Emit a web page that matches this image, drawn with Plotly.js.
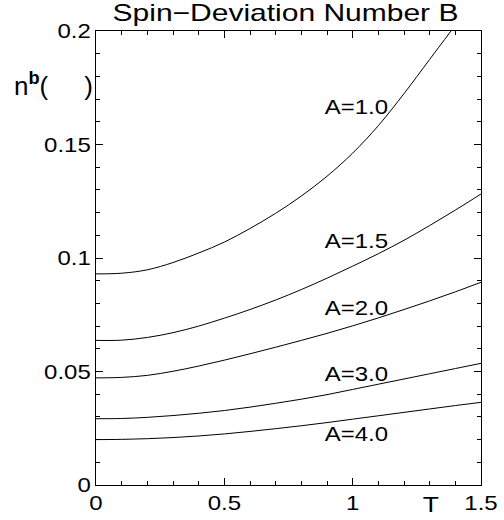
<!DOCTYPE html>
<html>
<head>
<meta charset="utf-8">
<script src="https://cdn.plot.ly/plotly-3.0.1.min.js"></script>
<style>html,body{margin:0;padding:0;background:#fff}</style>
</head>
<body>
<div id="chart" style="width:504px;height:520px"></div>
<script>
// Temperature grid (T)
const T = [0, 0.1, 0.2, 0.3, 0.4, 0.5, 0.6, 0.7, 0.8, 0.9, 1.0, 1.1, 1.2, 1.3, 1.4, 1.5];
const T_A1 = [0, 0.1, 0.2, 0.3, 0.4, 0.5, 0.6, 0.7, 0.8, 0.9, 1.0, 1.1, 1.2, 1.3, 1.383];
// Spin-deviation number n^b for each anisotropy A
const nA1_0 = [0.0930, 0.0933, 0.0948, 0.0980, 0.1022, 0.1070, 0.1130, 0.1197, 0.1273, 0.1360, 0.1462, 0.1583, 0.1724, 0.1875, 0.2000];
const nA1_5 = [0.0637, 0.0638, 0.0650, 0.0671, 0.0700, 0.0735, 0.0773, 0.0815, 0.0861, 0.0911, 0.0964, 0.1019, 0.1078, 0.1143, 0.1211, 0.1282];
const nA2_0 = [0.0472, 0.0474, 0.0483, 0.0501, 0.0524, 0.0550, 0.0578, 0.0607, 0.0637, 0.0668, 0.0701, 0.0736, 0.0773, 0.0811, 0.0851, 0.0893];
const nA3_0 = [0.0292, 0.0293, 0.0298, 0.0306, 0.0316, 0.0328, 0.0343, 0.0360, 0.0378, 0.0398, 0.0421, 0.0444, 0.0467, 0.0490, 0.0513, 0.0536];
const nA4_0 = [0.0200, 0.0201, 0.0204, 0.0209, 0.0216, 0.0225, 0.0236, 0.0248, 0.0261, 0.0275, 0.0290, 0.0305, 0.0320, 0.0335, 0.0350, 0.0364];
const curveLabels = ["A=1.0", "A=1.5", "A=2.0", "A=3.0", "A=4.0"];
const labelY = [0.1667, 0.1077, 0.0780, 0.0489, 0.0225];
const labelT = 1.015;
const titleText = "Spin\u2212Deviation Number B";
const yLabel = "n<sup><b>b</b></sup>(\u00a0\u00a0\u00a0\u00a0\u00a0)";
const xLabel = "T";

const FONT = "Liberation Sans, Arial, Helvetica, sans-serif";
const xs = [T_A1, T, T, T, T];
const ys = [nA1_0, nA1_5, nA2_0, nA3_0, nA4_0];
const traces = ys.map((y, i) => ({
  x: xs[i], y: y, type: 'scatter', mode: 'lines',
  line: {color: '#000', width: 1, shape: 'spline', smoothing: 1},
  hoverinfo: 'skip', showlegend: false, name: curveLabels[i]
}));

const W = 504, H = 520, mL = 96, mR = 23, mT = 31, mB = 35;
const pw = W - mL - mR, ph = H - mT - mB;
const px2paper = (x, y) => ({x: (x - mL) / pw, y: (H - mB - y) / ph});

const annotations = curveLabels.map((t, i) => ({
  x: labelT, y: labelY[i], xref: 'x', yref: 'y', text: t, showarrow: false,
  font: {family: FONT, size: 20, color: '#000'}, xanchor: 'center', yanchor: 'middle'
}));
const pY = px2paper(53, 84);
annotations.push({
  x: pY.x, y: pY.y, xref: 'paper', yref: 'paper', text: yLabel, showarrow: false,
  xanchor: 'center', yanchor: 'middle',
  font: {family: FONT, size: 26, color: '#000'}
});
const pX = px2paper(430, 505);
annotations.push({
  x: pX.x, y: pX.y, xref: 'paper', yref: 'paper', text: xLabel, showarrow: false,
  xanchor: 'center', yanchor: 'middle',
  font: {family: FONT, size: 22, color: '#000'}
});

const axisCommon = {
  showgrid: false, zeroline: false, showline: true, linecolor: '#000', linewidth: 1.2,
  mirror: 'allticks', ticks: 'inside', ticklen: 7, tickwidth: 1, tickcolor: '#000',
  tickfont: {family: FONT, size: 20, color: '#000'}, layer: 'above traces'
};

const layout = {
  width: W, height: H,
  margin: {l: mL, r: mR, t: mT, b: mB, pad: 0},
  paper_bgcolor: '#fff', plot_bgcolor: '#fff',
  title: {text: titleText, font: {family: FONT, size: 24, color: '#000'},
          x: 285.5 / W, xref: 'container', xanchor: 'center',
          y: 1 - 13 / H, yref: 'container', yanchor: 'middle'},
  xaxis: Object.assign({}, axisCommon, {
    range: [0, 1.5], tickmode: 'linear', tick0: 0, dtick: 0.5,
    minor: {tickmode: 'linear', tick0: 0, dtick: 0.1, ticks: 'inside', ticklen: 4, tickcolor: '#000', tickwidth: 1}
  }),
  yaxis: Object.assign({}, axisCommon, {
    range: [0, 0.2], tickmode: 'linear', tick0: 0, dtick: 0.05,
    minor: {tickmode: 'linear', tick0: 0, dtick: 0.01, ticks: 'inside', ticklen: 4, tickcolor: '#000', tickwidth: 1}
  }),
  annotations: annotations
};

// Stretch text horizontally like the reference (its glyphs are wider than tall)
function stretchTexts(gd) {
  gd.querySelectorAll('svg.main-svg text').forEach(el => {
    if (!el.textContent || !el.textContent.trim()) return;
    const isTitle = el.classList.contains('gtitle');
    const isYLabel = el.textContent.indexOf('n') === 0 && el.textContent.indexOf('(') > 0;
    const f = isTitle ? 1.25 : (isYLabel ? 1.0 : 1.2);
    if (f === 1) return;
    const x = parseFloat(el.getAttribute('x') || '0');
    const prev = el.getAttribute('transform') || '';
    el.setAttribute('transform', prev + ' translate(' + x + ',0) scale(' + f + ',1) translate(' + (-x) + ',0)');
  });
}

Plotly.newPlot('chart', traces, layout, {displayModeBar: false, staticPlot: true}).then(stretchTexts);
</script>
</body>
</html>
